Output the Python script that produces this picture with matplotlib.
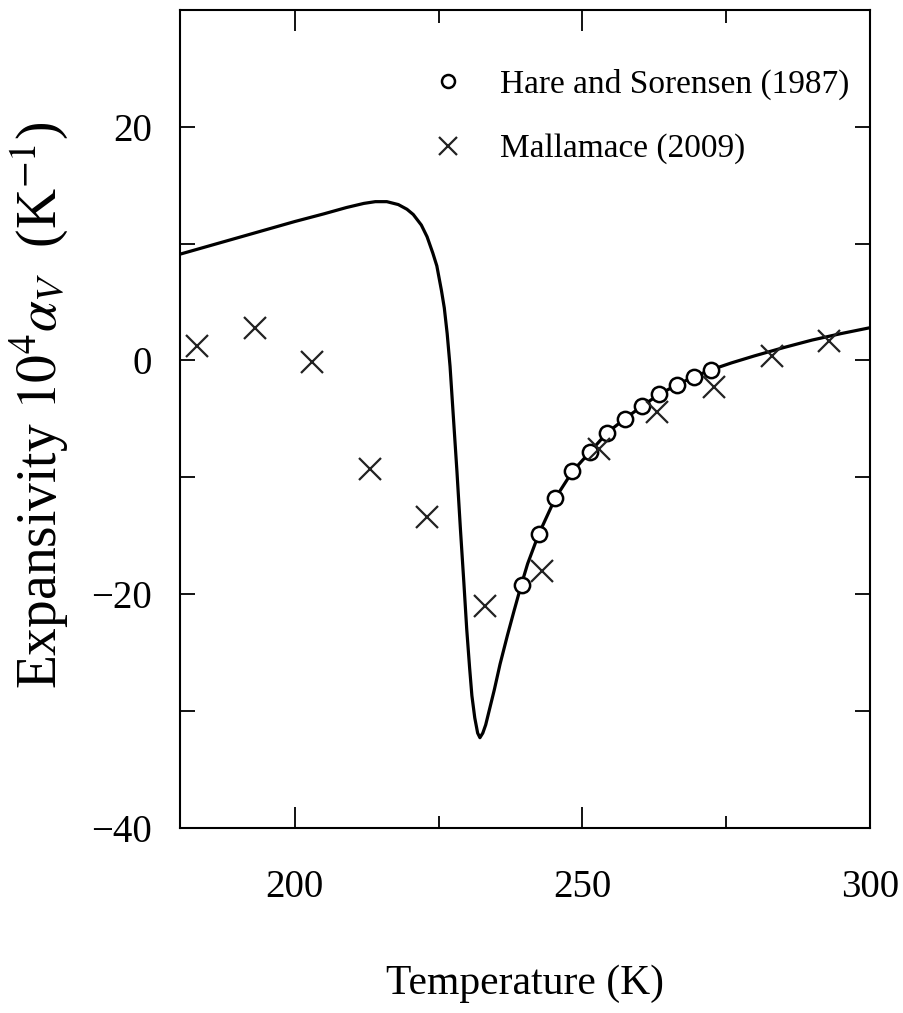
import matplotlib
matplotlib.use("Agg")
import matplotlib.pyplot as plt
from matplotlib.ticker import MultipleLocator, FuncFormatter

plt.rcParams["font.family"] = ["Liberation Serif", "DejaVu Serif"]
plt.rcParams["mathtext.fontset"] = "stix"

# --- Datos ---
# curva del modelo (T en K, 10^4 alpha_V en K^-1)
curva_T = [180, 185, 190, 195, 200, 205, 209, 212, 214, 216, 218, 219.5, 220.6, 222, 223,
           224, 224.7, 225.5, 226, 226.5, 227, 227.6, 228.2, 228.8, 229.4, 229.9,
           230.4, 230.8, 231.3, 231.8, 232.2, 232.7, 233.2, 233.7, 234.7, 235.7,
           237, 238.1, 239.4, 240.5, 242.4, 245.3, 248.3, 251.4, 254.3, 257.4,
           260.4, 263.4, 266.4, 269.4, 272.4, 276, 280, 285, 290, 295, 300]
curva_alfa = [9.1, 9.8, 10.5, 11.2, 11.9, 12.55, 13.1, 13.45, 13.6, 13.6, 13.35, 12.95, 12.5,
              11.6, 10.6, 9.2, 8.1, 6.0, 4.5, 2.3, -0.5, -5.0, -9.5, -14.4, -19.0,
              -23.0, -26.3, -28.7, -30.6, -31.9, -32.3, -31.9, -31.2, -30.2, -28.2,
              -26.0, -23.5, -21.5, -19.2, -17.4, -14.9, -11.8, -9.5, -7.8, -6.2,
              -5.0, -3.9, -2.9, -2.1, -1.4, -0.8, -0.2, 0.4, 1.1, 1.75, 2.3, 2.8]

# Hare and Sorensen (1987)
hare_T = [239.5, 242.4, 245.3, 248.3, 251.4, 254.3, 257.4, 260.4, 263.4, 266.4, 269.4, 272.4]
hare_alfa = [-19.2, -14.9, -11.8, -9.5, -7.8, -6.2, -5.0, -3.9, -2.9, -2.1, -1.4, -0.8]

# Mallamace (2009)
malla_T = [183, 193, 203, 213, 223, 233, 243, 253, 263, 273, 283, 293]
malla_alfa = [1.2, 2.8, -0.1, -9.3, -13.4, -21.0, -18.0, -7.6, -4.4, -2.3, 0.4, 1.7]

fig = plt.figure(figsize=(9.04, 10.13), dpi=100)
ax = fig.add_axes([0.199, 0.183, 0.763, 0.807])

ax.plot(curva_T, curva_alfa, color="black", lw=2.3, zorder=2)
ax.plot(hare_T, hare_alfa, linestyle="none", marker="o", ms=11, mew=1.8,
        mfc="white", mec="black", label="Hare and Sorensen (1987)", zorder=3)
ax.plot(malla_T, malla_alfa, linestyle="none", marker="x", ms=16, mew=1.6,
        color="#222222", label="Mallamace (2009)", zorder=4)

ax.set_xlim(180, 300)
ax.set_ylim(-40, 30)
ax.xaxis.set_major_locator(MultipleLocator(50))
ax.xaxis.set_minor_locator(MultipleLocator(25))
ax.yaxis.set_major_locator(MultipleLocator(20))
ax.yaxis.set_minor_locator(MultipleLocator(10))
ax.yaxis.set_major_formatter(FuncFormatter(lambda v, p: f"{v:.0f}".replace("-", "\u2212")))

for s in ax.spines.values():
    s.set_linewidth(1.5)

ax.tick_params(which="both", direction="in", top=True, right=True, width=1.3)
ax.tick_params(axis="x", which="major", length=15, pad=30, labelsize=28)
ax.tick_params(axis="x", which="minor", length=9)
ax.tick_params(axis="y", which="both", length=11, pad=20, labelsize=28)

ax.set_xlabel("Temperature (K)", fontsize=30)
ax.xaxis.set_label_coords(0.5, -0.167)
ax.xaxis.label.set_va("top")
ax.set_ylabel("Expansivity $10^4\\alpha_V$  (K$^{-1}$)", fontsize=40)
ax.yaxis.set_label_coords(-0.16, 0.517)

leg = ax.legend(loc="upper right", bbox_to_anchor=(0.99, 0.945), frameon=False,
                fontsize=24, handlelength=1.2, handletextpad=0.95, labelspacing=1.02,
                borderaxespad=0, markerscale=0.85)

fig.savefig("out.png", dpi=100)
